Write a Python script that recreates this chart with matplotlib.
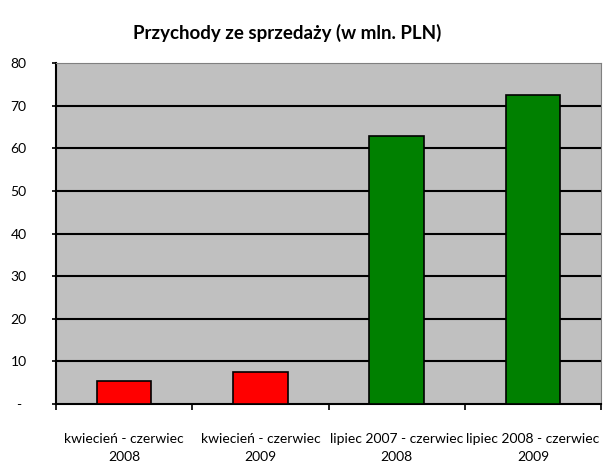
import matplotlib
matplotlib.use("Agg")
import matplotlib.pyplot as plt
import numpy as np

plt.rcParams['font.family'] = ['Lato', 'DejaVu Sans']

categories = ["kwiecień - czerwiec\n2008", "kwiecień - czerwiec\n2009",
              "lipiec 2007 - czerwiec\n2008", "lipiec 2008 - czerwiec\n2009"]
values = [5.4, 7.6, 62.8, 72.4]
colors = ["#ff0000", "#ff0000", "#008000", "#008000"]
yticks = [0, 10, 20, 30, 40, 50, 60, 70, 80]
ytick_labels = ["-", "10", "20", "30", "40", "50", "60", "70", "80"]

fig = plt.figure(figsize=(6.03, 4.72), dpi=100)
ax = fig.add_axes([0.0929, 0.144, 0.9038, 0.7225])
ax.set_facecolor("#c0c0c0")

x = np.arange(len(categories))
ax.bar(x, values, width=0.4, color=colors, edgecolor="black", linewidth=1.2, zorder=3)

ax.set_xlim(-0.5, len(categories) - 0.5)
ax.set_ylim(0, 80)

# horizontal grid
for v in yticks[1:-1]:
    ax.axhline(v, color="black", linewidth=1.5, zorder=1)

ax.set_yticks(yticks)
ax.set_yticklabels(ytick_labels, fontsize=10, ha="center")
ax.tick_params(axis="y", direction="out", length=3, width=1.2, pad=24)

ax.set_xticks(np.arange(len(categories) + 1) - 0.5)
ax.set_xticklabels([])
ax.set_xticks(x, minor=True)
ax.set_xticklabels(categories, minor=True, fontsize=10, linespacing=1.55)
ax.tick_params(axis="x", which="major", direction="out", length=4, width=1.2)
ax.tick_params(axis="x", which="minor", length=0, pad=21)

ax.spines["left"].set_linewidth(1.5)
ax.spines["bottom"].set_linewidth(1.5)
ax.spines["top"].set_color("#808080")
ax.spines["right"].set_color("#808080")

fig.text(0.476, 0.93, "Przychody ze sprzedaży (w mln. PLN)", ha="center",
         va="center", fontsize=13.5, fontweight="bold")

fig.savefig("out.png", dpi=100, facecolor="white")
